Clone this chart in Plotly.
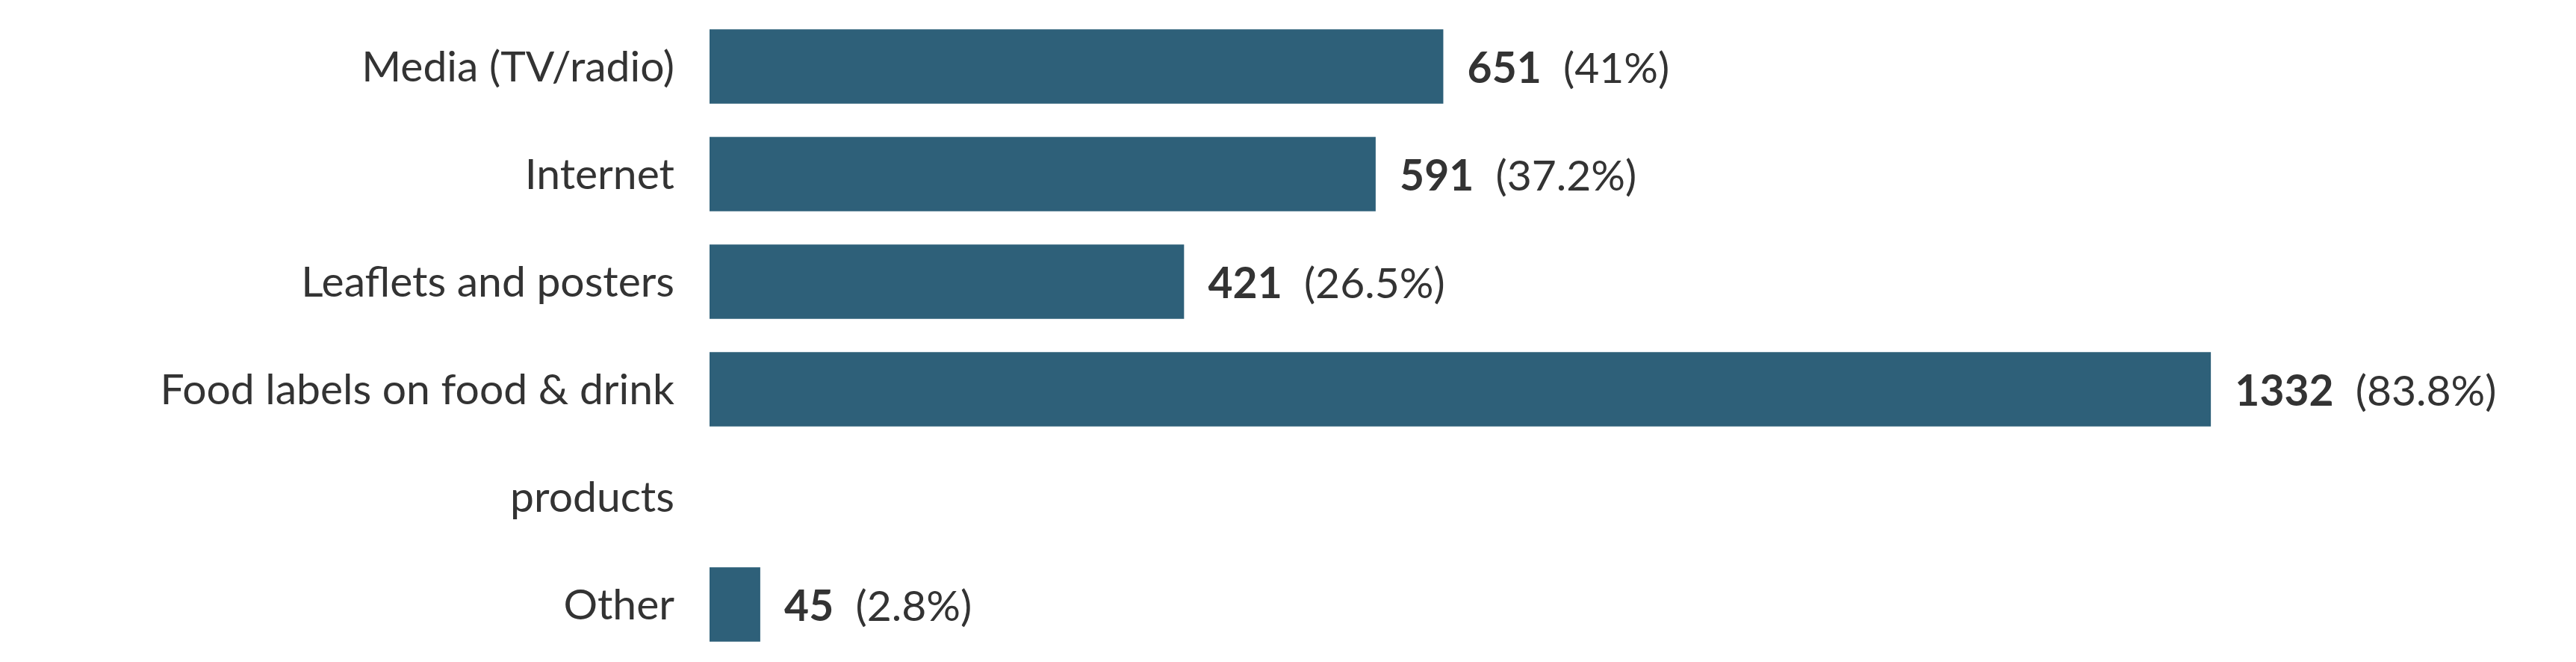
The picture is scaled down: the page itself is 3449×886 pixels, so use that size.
import plotly.graph_objects as go

categories = ["Media (TV/radio)", "Internet", "Leaflets and posters", "Food labels on food & drink products", "Other"]
counts = [651, 591, 421, 1332, 45]
percents = ["41%", "37.2%", "26.5%", "83.8%", "2.8%"]

# slot layout: the long label wraps onto a second line occupying its own slot
slots = ["Media (TV/radio)", "Internet", "Leaflets and posters", "Food labels on food & drink", "products", "Other"]
tick_text = slots
bar_slots = ["Media (TV/radio)", "Internet", "Leaflets and posters", "Food labels on food & drink", "Other"]

texts = [f"  <b>{c}</b>  ({p})" for c, p in zip(counts, percents)]

fig = go.Figure(go.Bar(
    y=bar_slots, x=counts, orientation="h",
    marker=dict(color="#2e6079", line=dict(width=0)),
    width=0.69,
    text=texts, textposition="outside", cliponaxis=False,
    textfont=dict(family="Lato", size=57, color="#333333"),
))
fig.update_layout(
    width=3449, height=886,
    margin=dict(l=942, r=20, t=9, b=13),
    plot_bgcolor="white", paper_bgcolor="white",
    showlegend=False,
    font=dict(family="Lato", size=57, color="#333333"),
    xaxis=dict(range=[0, 1648], visible=False, showgrid=False),
    yaxis=dict(categoryorder="array", categoryarray=slots, autorange="reversed",
               tickmode="array", tickvals=slots, ticktext=tick_text,
               showgrid=False, showline=False, ticks="", ticklabelstandoff=46,
               tickfont=dict(family="Lato", size=57, color="#333333")),
)
fig.write_html("out.html")
